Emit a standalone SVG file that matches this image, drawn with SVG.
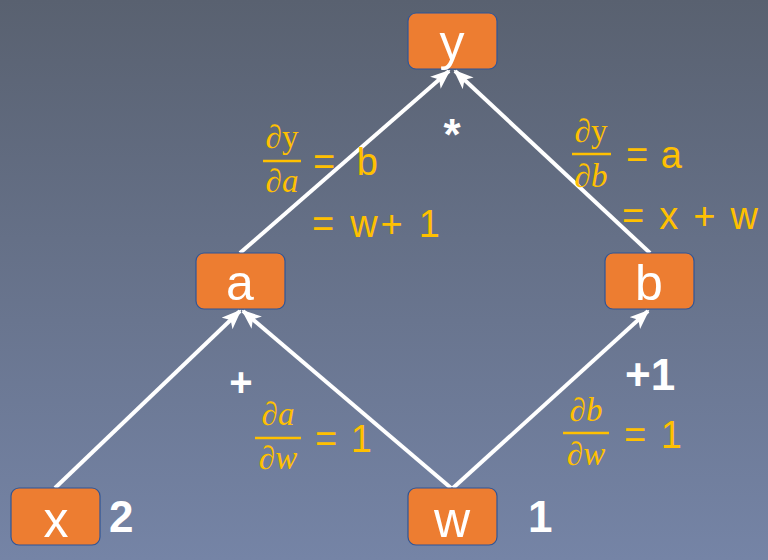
<svg xmlns="http://www.w3.org/2000/svg" width="768" height="560" viewBox="0 0 768 560">
<defs>
<linearGradient id="bg" x1="0" y1="0" x2="0" y2="1">
<stop offset="0" stop-color="#596170"/>
<stop offset="1" stop-color="#7584a6"/>
</linearGradient>
<marker id="ah" viewBox="0 0 20 16" refX="18" refY="8" markerWidth="20" markerHeight="16" markerUnits="userSpaceOnUse" orient="auto">
<path d="M0,0 L20,8 L0,16 L5,8 Z" fill="#ffffff"/>
</marker>
<style>
.box{fill:#ED7D31;stroke:#2F5597;stroke-width:1.2}
.nt{font-family:"Liberation Sans",Arial,sans-serif;font-size:50px;fill:#ffffff;text-anchor:middle}
.edge{stroke:#ffffff;stroke-width:4;fill:none;marker-end:url(#ah)}
.op{font-family:"Liberation Sans",Arial,sans-serif;font-weight:bold;fill:#ffffff}
.m{font-family:"Liberation Serif","Times New Roman",serif;font-size:33px;fill:#FFC000;text-anchor:middle}
.mi{font-style:italic}
.eq{font-family:"Liberation Sans",Arial,sans-serif;font-size:38px;fill:#FFC000}
.fl{stroke:#FFC000;stroke-width:2.5}
</style>
</defs>
<rect x="0" y="0" width="768" height="560" fill="url(#bg)"/>
<g id="connectors">
<line class="edge" x1="240" y1="253" x2="449" y2="71"/>
<line class="edge" x1="650" y1="253" x2="455" y2="71"/>
<line class="edge" x1="55" y1="488" x2="240" y2="311"/>
<line class="edge" x1="451" y1="488" x2="243" y2="311"/>
<line class="edge" x1="453" y1="488" x2="648" y2="311"/>
</g>
<g id="node-y"><rect class="box" x="408" y="13" width="89" height="56" rx="8"/><text class="nt" x="452" y="60">y</text></g>
<g id="node-a"><rect class="box" x="196" y="253" width="89" height="56" rx="8"/><text class="nt" x="240" y="300">a</text></g>
<g id="node-b"><rect class="box" x="605" y="253" width="89" height="56" rx="8"/><text class="nt" x="649" y="300">b</text></g>
<g id="node-x"><rect class="box" x="11" y="488" width="89" height="57" rx="8"/><text class="nt" x="56" y="537">x</text></g>
<g id="node-w"><rect class="box" x="408" y="488" width="89" height="57" rx="8"/><text class="nt" x="452" y="537">w</text></g>
<g id="labels">
<text class="op" x="452" y="150" font-size="44" text-anchor="middle">*</text>
<text class="op" x="241" y="396" font-size="40" text-anchor="middle">+</text>
<text class="op" x="625" y="390" font-size="44">+1</text>
<text class="op" x="109" y="532" font-size="44">2</text>
<text class="op" x="528" y="532" font-size="44">1</text>

<text class="m" x="282" y="148">∂y</text>
<line class="fl" x1="263" y1="161" x2="301" y2="161"/>
<text class="m" x="282" y="192">∂<tspan class="mi">a</tspan></text>
<text class="eq" x="313" y="175" textLength="65">= b</text>
<text class="eq" x="312" y="237" textLength="128">= w+ 1</text>

<text class="m" x="591" y="142">∂y</text>
<line class="fl" x1="572" y1="154" x2="611" y2="154"/>
<text class="m" x="591" y="187">∂<tspan class="mi">b</tspan></text>
<text class="eq" x="626" y="168" textLength="56">= a</text>
<text class="eq" x="622" y="229" textLength="136">= x + w</text>

<text class="m" x="278" y="425">∂<tspan class="mi">a</tspan></text>
<line class="fl" x1="255" y1="438" x2="301" y2="438"/>
<text class="m" x="278" y="469">∂<tspan class="mi">w</tspan></text>
<text class="eq" x="315" y="452" textLength="57">= 1</text>

<text class="m" x="586" y="421">∂<tspan class="mi">b</tspan></text>
<line class="fl" x1="563" y1="433" x2="609" y2="433"/>
<text class="m" x="586" y="465">∂<tspan class="mi">w</tspan></text>
<text class="eq" x="624" y="448" textLength="58">= 1</text>
</g>
</svg>
